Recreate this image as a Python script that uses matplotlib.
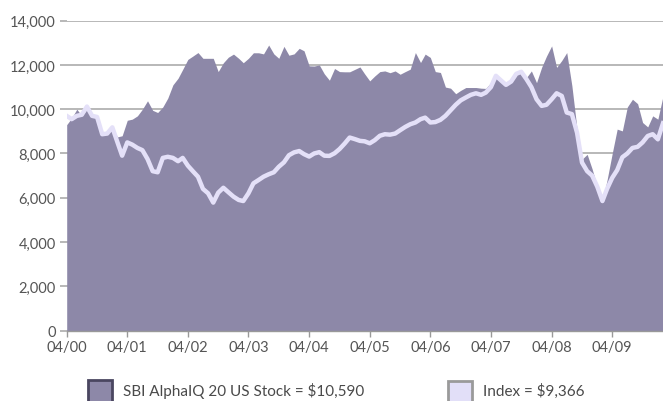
import matplotlib
matplotlib.use("Agg")
import matplotlib.pyplot as plt
import matplotlib.dates as mdates
from matplotlib.patches import Rectangle
import pandas as pd

# Growth of $10,000, monthly, 04/2000 - 02/2010
fund = [
    9300, 9600, 10000, 9700, 10000, 9700, 9650, 8900, 8900, 9150,
    8750, 8800, 9500, 9550, 9700, 10000, 10380, 9950, 9850, 10100,
    10500, 11100, 11400, 11800, 12250, 12400, 12560, 12300, 12300, 12300,
    11700, 12100, 12350, 12490, 12300, 12100, 12300, 12550, 12550, 12500,
    12900, 12500, 12300, 12840, 12440, 12500, 12750, 12640, 11960, 11950,
    12000, 11600, 11310, 11840, 11700, 11690, 11690, 11800, 11910, 11600,
    11280, 11500, 11700, 11730, 11650, 11730, 11580, 11700, 11810, 12560,
    12110, 12490, 12340, 11700, 11660, 11000, 10950, 10700, 10850, 10980,
    10980, 10980, 10950, 10940, 11200, 11510, 11300, 11100, 11250, 11600,
    11690, 11430, 11730, 11200, 11900, 12400, 12860, 11890, 12200, 12560,
    11060, 9100, 7740, 7960, 7300, 6500, 5850, 6800, 8000, 9100,
    9020, 10100, 10450, 10250, 9400, 9200, 9700, 9550, 10590,
]
index = [
    9700, 9550, 9700, 9750, 10120, 9700, 9650, 8870, 8900, 9180,
    8500, 7900, 8500, 8400, 8250, 8150, 7750, 7200, 7150, 7800,
    7850, 7800, 7650, 7800, 7450, 7200, 6950, 6400, 6200, 5780,
    6230, 6450, 6250, 6050, 5900, 5850, 6200, 6650, 6800, 6950,
    7060, 7150, 7400, 7600, 7920, 8050, 8110, 7970, 7860, 8000,
    8060, 7900, 7890, 8010, 8200, 8450, 8720, 8650, 8570, 8550,
    8460, 8600, 8800, 8870, 8850, 8900, 9050, 9200, 9320, 9400,
    9550, 9620, 9400, 9420, 9520, 9700, 9950, 10200, 10400, 10530,
    10650, 10720, 10650, 10750, 11000, 11510, 11300, 11100, 11250, 11600,
    11690, 11360, 11000, 10450, 10150, 10200, 10450, 10720, 10600, 9850,
    9780, 8940, 7590, 7200, 7000, 6500, 5850, 6400, 6900, 7250,
    7830, 8000, 8250, 8300, 8500, 8790, 8870, 8640, 9366,
]
fund_label = "SBI AlphaIQ 20 US Stock = $10,590"
index_label = "Index = $9,366"
y_ticks = [0, 2000, 4000, 6000, 8000, 10000, 12000, 14000]

FUND_COLOR = "#8d88a8"
INDEX_COLOR = "#e4e0f8"
GRID_COLOR = "#ababab"
TEXT_COLOR = "#555555"
FONT = "Lato"

dates = pd.date_range(start="2000-04-01", periods=len(fund), freq="MS")

W, H = 663, 402
fig = plt.figure(figsize=(W / 100, H / 100), dpi=100)
ax = fig.add_axes([66.7 / W, 1 - 331.5 / H, 1 - 66.7 / W, (331.5 - 21.7) / H])

ax.fill_between(dates, fund, 0, color=FUND_COLOR, linewidth=0, zorder=2)
ax.plot(dates, index, color=INDEX_COLOR, linewidth=3.2, zorder=3,
        solid_joinstyle="round")

ax.set_xlim(dates[0], dates[-1])
ax.set_ylim(0, 14000)
ax.set_yticks(y_ticks)
ax.set_yticklabels([f"{v:,}" for v in y_ticks])
ax.yaxis.grid(True, color=GRID_COLOR, linewidth=1.2, zorder=1)
ax.set_axisbelow(True)

ax.xaxis.set_major_locator(mdates.MonthLocator(bymonth=4))
ax.xaxis.set_major_formatter(mdates.DateFormatter("%m/%y"))

for side in ("top", "right", "left"):
    ax.spines[side].set_visible(False)
ax.spines["bottom"].set_color("#999999")
ax.spines["bottom"].set_linewidth(1.0)
ax.spines["bottom"].set_zorder(4)

ax.tick_params(axis="y", length=5, width=1.2, color=GRID_COLOR, pad=3,
               labelsize=10.5, labelcolor=TEXT_COLOR)
ax.tick_params(axis="x", length=4, width=1.0, color="#999999", pad=3,
               labelsize=10.5, labelcolor=TEXT_COLOR)
for lab in ax.get_xticklabels() + ax.get_yticklabels():
    lab.set_fontfamily(FONT)

# legend along the bottom edge
fig.add_artist(Rectangle((88.3 / W, 1 - 404 / H), 24 / W, 23 / H,
                         transform=fig.transFigure, facecolor=FUND_COLOR,
                         edgecolor="#4a4660", linewidth=2))
fig.add_artist(Rectangle((447.5 / W, 1 - 404 / H), 24 / W, 22.5 / H,
                         transform=fig.transFigure, facecolor="#e2dff8",
                         edgecolor="#9a9a9a", linewidth=2))
fig.text(123 / W, 1 - 391 / H, fund_label, fontsize=11, family=FONT,
         color="#4a4a4a", va="center", ha="left")
fig.text(483 / W, 1 - 391 / H, index_label, fontsize=11, family=FONT,
         color="#4a4a4a", va="center", ha="left")

fig.savefig("out.png", dpi=100)
